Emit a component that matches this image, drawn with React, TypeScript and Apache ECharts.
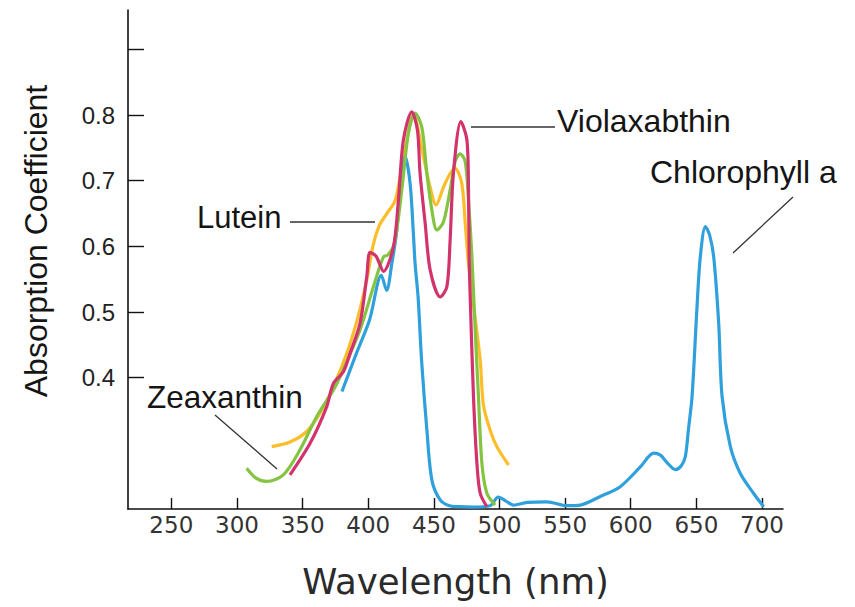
import React, { useEffect, useRef } from "react";
import * as echarts from "echarts";

// Wavelength (nm) / absorption coefficient
const chlorophyllNm = [380, 391, 401, 410, 414, 418, 421.8, 424.3, 428.1, 431.9, 434.4, 435.7, 438, 440.8, 444.7, 448.5, 454.8, 462, 470, 480, 492.9, 499, 505, 510.5, 521.1, 536.2, 551.4, 561.6, 576.8, 592, 607.3, 617.5, 622.6, 628, 634, 638.5, 641.6, 643.9, 646.7, 650.5, 653, 656.9, 660, 663.2, 667, 669.6, 675.9, 683.5, 693.5, 701.3];
const chlorophyllAbs = [0.379, 0.437, 0.488, 0.556, 0.533, 0.574, 0.625, 0.691, 0.737, 0.696, 0.62, 0.574, 0.523, 0.422, 0.32, 0.244, 0.214, 0.205, 0.2035, 0.203, 0.205, 0.218, 0.212, 0.206, 0.21, 0.211, 0.205, 0.206, 0.219, 0.234, 0.264, 0.285, 0.282, 0.27, 0.26, 0.266, 0.28, 0.32, 0.371, 0.508, 0.584, 0.63, 0.618, 0.584, 0.483, 0.371, 0.295, 0.254, 0.224, 0.2035];

const violaxanthinNm = [340.4, 355.7, 368.4, 373.4, 381.1, 386.2, 393.8, 398.9, 401.4, 406, 411.7, 419.2, 423, 426.8, 433.2, 437.5, 439.5, 443.4, 447.2, 454.8, 459.9, 462.4, 464.9, 470.6, 475.2, 476.4, 476.9, 477.7, 480.2, 482.8, 485.3, 490.4];
const violaxanthinAbs = [0.252, 0.3, 0.356, 0.391, 0.409, 0.437, 0.483, 0.554, 0.591, 0.585, 0.562, 0.599, 0.67, 0.762, 0.805, 0.777, 0.711, 0.635, 0.564, 0.523, 0.538, 0.609, 0.711, 0.79, 0.762, 0.686, 0.584, 0.523, 0.371, 0.27, 0.224, 0.2035];

const zeaxanthinNm = [307.4, 314.5, 322.6, 335.3, 348, 360.8, 373.4, 378.5, 393.8, 403.9, 411.6, 415.1, 420, 425.6, 430.6, 435.7, 440.8, 444.7, 448.5, 452.3, 457.3, 462.4, 466.2, 470, 473.9, 476.4, 479, 481.5, 484, 486.6, 490.4, 496.7];
const zeaxanthinAbs = [0.262, 0.247, 0.242, 0.252, 0.29, 0.341, 0.381, 0.401, 0.473, 0.538, 0.584, 0.587, 0.605, 0.686, 0.772, 0.803, 0.782, 0.711, 0.655, 0.625, 0.637, 0.686, 0.729, 0.741, 0.729, 0.67, 0.584, 0.473, 0.371, 0.27, 0.224, 0.206];

const luteinNm = [326.5, 340.4, 353.1, 363.3, 373.4, 383.7, 392.3, 398.9, 403.9, 408.5, 414.2, 420.5, 425.6, 431.9, 434.4, 442.1, 447.2, 451.7, 457.3, 462.4, 466.2, 471.3, 473.9, 476.4, 480.7, 485.3, 487.8, 492.9, 498, 506.9];
const luteinAbs = [0.295, 0.302, 0.318, 0.346, 0.386, 0.437, 0.493, 0.549, 0.603, 0.632, 0.65, 0.67, 0.721, 0.787, 0.8, 0.736, 0.69, 0.663, 0.69, 0.711, 0.719, 0.696, 0.635, 0.574, 0.503, 0.427, 0.358, 0.32, 0.295, 0.267];

const xTickValues = [250, 300, 350, 400, 450, 500, 550, 600, 650, 700];
const yTickValues = [0.4, 0.5, 0.6, 0.7, 0.8, 0.9];
const yLabelValues = [0.4, 0.5, 0.6, 0.7, 0.8];

const pairs = (xs: number[], ys: number[]) => xs.map((x, i) => [x, ys[i]]);

export default function App() {
  const ref = useRef<HTMLDivElement>(null);
  useEffect(() => {
    if (!ref.current) return;
    const chart = echarts.init(ref.current, undefined, { renderer: "svg" });
    const lineSeries = (name: string, data: number[][], color: string, z: number) => ({
      name,
      type: "line",
      data,
      showSymbol: false,
      smooth: 0.3,
      z,
      lineStyle: { color, width: 3.2 },
      itemStyle: { color },
    });
    const labelFont = { fontFamily: "Liberation Sans, Arial, sans-serif", fill: "#151515" };
    const leader = { stroke: "#333", lineWidth: 1.3 };
    chart.setOption({
      animation: false,
      backgroundColor: "#ffffff",
      grid: { left: 128, right: 72, top: 10, bottom: 98 },
      xAxis: {
        type: "value",
        min: 217,
        max: 716,
        name: "Wavelength (nm)",
        nameLocation: "middle",
        nameGap: 54,
        nameTextStyle: { fontFamily: "DejaVu Sans", fontSize: 35.5, color: "#2a2a2a" },
        axisLine: { show: true, lineStyle: { color: "#111", width: 1.6 } },
        axisTick: { show: true, inside: true, length: 11, customValues: xTickValues, lineStyle: { color: "#111", width: 1.4 } },
        axisLabel: { customValues: xTickValues, margin: 4, fontFamily: "DejaVu Sans", fontSize: 23, color: "#333" },
        splitLine: { show: false },
      },
      yAxis: {
        type: "value",
        min: 0.2,
        max: 0.96,
        axisLine: { show: true, lineStyle: { color: "#111", width: 1.6 } },
        axisTick: { show: true, inside: true, length: 16, customValues: yTickValues, lineStyle: { color: "#111", width: 1.4 } },
        axisLabel: { customValues: yLabelValues, margin: 13, fontFamily: "Liberation Sans", fontSize: 24, color: "#222", formatter: (v: number) => v.toFixed(1) },
        splitLine: { show: false },
      },
      series: [
        lineSeries("Lutein", pairs(luteinNm, luteinAbs), "#fcbd2a", 2),
        lineSeries("Chlorophyll a", pairs(chlorophyllNm, chlorophyllAbs), "#2fa0dc", 3),
        lineSeries("Zeaxanthin", pairs(zeaxanthinNm, zeaxanthinAbs), "#84c442", 4),
        lineSeries("Violaxabthin", pairs(violaxanthinNm, violaxanthinAbs), "#d2336d", 5),
      ],
      graphic: [
        {
          type: "text",
          x: 36,
          y: 241,
          rotation: Math.PI / 2,
          style: { ...labelFont, fontSize: 32, text: "Absorption Coefficient", align: "center", verticalAlign: "middle" },
        },
        { type: "text", x: 197, y: 217, style: { ...labelFont, fontSize: 31, text: "Lutein", verticalAlign: "middle" } },
        { type: "line", shape: { x1: 290, y1: 222, x2: 375, y2: 222 }, style: leader },
        { type: "text", x: 557, y: 121, style: { ...labelFont, fontSize: 32, text: "Violaxabthin", verticalAlign: "middle" } },
        { type: "line", shape: { x1: 471, y1: 127, x2: 555, y2: 127 }, style: leader },
        { type: "text", x: 650, y: 172, style: { ...labelFont, fontSize: 32, text: "Chlorophyll a", verticalAlign: "middle" } },
        { type: "line", shape: { x1: 793, y1: 197, x2: 733, y2: 253 }, style: leader },
        { type: "text", x: 147, y: 397, style: { ...labelFont, fontSize: 31.5, text: "Zeaxanthin", verticalAlign: "middle" } },
        { type: "line", shape: { x1: 215, y1: 415, x2: 277, y2: 469 }, style: leader },
      ],
    });
    return () => chart.dispose();
  }, []);
  return <div ref={ref} style={{ width: 855, height: 607, position: "absolute", left: 0, top: 0 }} />;
}
